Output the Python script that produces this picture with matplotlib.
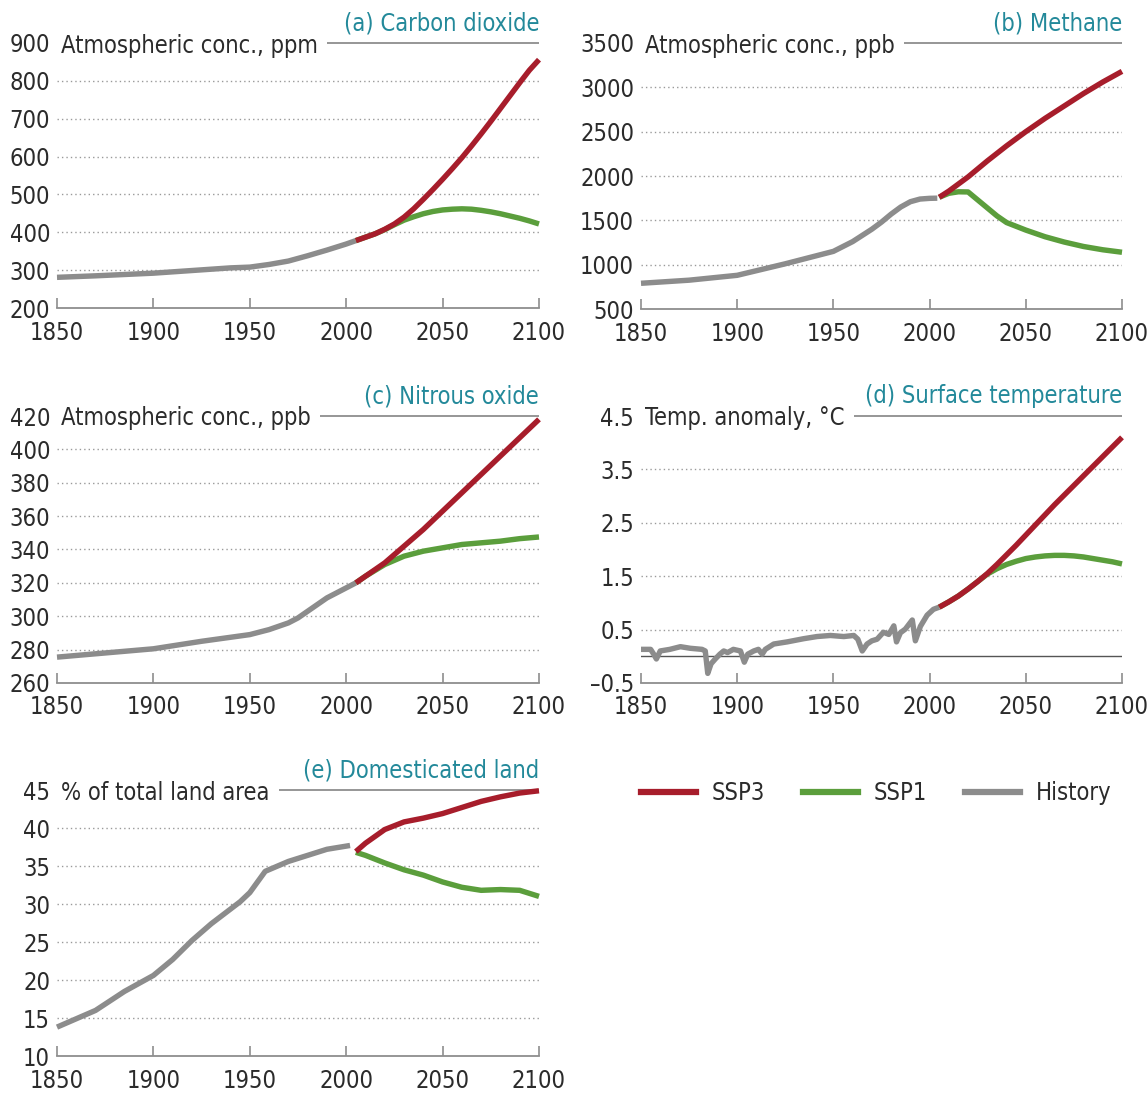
import matplotlib
matplotlib.use('Agg')
import matplotlib.pyplot as plt
import matplotlib.transforms as mtransforms
from matplotlib import font_manager as fm
from matplotlib.lines import Line2D

# ---------------- data ----------------
x_ticks = [1850, 1900, 1950, 2000, 2050, 2100]

# (a) Carbon dioxide, ppm
co2_hist_years = [1850, 1870, 1900, 1920, 1940, 1950, 1960, 1970, 1980, 1990, 2000, 2005]
co2_hist = [281, 285, 292, 299, 306, 308, 315, 324, 338, 353, 369, 378]
co2_scen_years = [2005, 2010, 2015, 2020, 2025, 2030, 2035, 2040, 2045, 2050, 2055, 2060,
                  2065, 2070, 2075, 2080, 2085, 2090, 2095, 2100]
co2_ssp3 = [378, 387, 396, 408, 422, 440, 462, 487, 513, 540, 568, 597,
            628, 660, 693, 727, 761, 795, 828, 856]
co2_ssp1 = [378, 387, 396, 407, 420, 432, 441, 449, 455, 459, 461, 462,
            461, 458, 454, 449, 443, 437, 430, 422]
co2_yticks = [200, 300, 400, 500, 600, 700, 800, 900]

# (b) Methane, ppb
ch4_hist_years = [1850, 1875, 1900, 1925, 1950, 1960, 1970, 1975, 1980, 1985, 1990, 1995, 2000, 2004]
ch4_hist = [790, 825, 880, 1010, 1150, 1260, 1400, 1480, 1570, 1650, 1710, 1740, 1748, 1750]
ch4_ssp3_years = [2005, 2010, 2020, 2030, 2040, 2050, 2060, 2070, 2080, 2090, 2100]
ch4_ssp3 = [1760, 1830, 1990, 2170, 2340, 2500, 2650, 2790, 2930, 3060, 3180]
ch4_ssp1_years = [2005, 2010, 2015, 2020, 2025, 2030, 2035, 2040, 2050, 2060, 2070, 2080, 2090, 2100]
ch4_ssp1 = [1760, 1805, 1822, 1820, 1730, 1640, 1550, 1475, 1390, 1315, 1255, 1205, 1168, 1140]
ch4_yticks = [500, 1000, 1500, 2000, 2500, 3000, 3500]

# (c) Nitrous oxide, ppb
n2o_hist_years = [1850, 1875, 1900, 1925, 1950, 1960, 1970, 1975, 1980, 1985, 1990, 1995, 2000, 2005]
n2o_hist = [275.5, 278, 280.5, 285, 289, 292, 296, 299, 303, 307, 311, 314, 317, 320]
n2o_scen_years = [2005, 2010, 2020, 2030, 2040, 2050, 2060, 2070, 2080, 2090, 2100]
n2o_ssp3 = [320, 324, 332, 342, 352, 363, 374, 385, 396, 407, 418]
n2o_ssp1 = [320, 324, 331, 336, 339, 341, 343, 344, 345, 346.5, 347.5]
n2o_yticks = [260, 280, 300, 320, 340, 360, 380, 400, 420]

# (d) Surface temperature anomaly, deg C
tmp_hist_years = [1850, 1855, 1856.6, 1858, 1860, 1865, 1870.5, 1875.6, 1881.7, 1883.4,
                  1884.7, 1886.4, 1888.6, 1891, 1893, 1895, 1898, 1901.7, 1903.7, 1905.5,
                  1908.6, 1911, 1913, 1914.6, 1919, 1926, 1934.6, 1941.5, 1948.4, 1955.4,
                  1960.6, 1962.7, 1965, 1967.5, 1970, 1972.7, 1976, 1978.8, 1981.4, 1982.8,
                  1984.8, 1987.4, 1991, 1992.6, 1995.2, 1998.7, 2002, 2005]
tmp_hist = [0.13, 0.13, 0.04, -0.05, 0.10, 0.13, 0.18, 0.15, 0.13, 0.10,
            -0.32, -0.14, -0.05, 0.04, 0.10, 0.07, 0.13, 0.10, -0.11, 0.04,
            0.10, 0.13, 0.04, 0.13, 0.23, 0.27, 0.33, 0.37, 0.39, 0.37,
            0.39, 0.32, 0.10, 0.23, 0.29, 0.32, 0.45, 0.41, 0.57, 0.27,
            0.44, 0.51, 0.68, 0.29, 0.56, 0.77, 0.88, 0.92]
tmp_scen_years = [2005, 2010, 2015, 2020, 2025, 2030, 2035, 2040, 2045, 2050, 2055, 2060,
                  2065, 2070, 2075, 2080, 2085, 2090, 2095, 2100]
tmp_ssp3 = [0.92, 1.02, 1.13, 1.26, 1.40, 1.55, 1.72, 1.90, 2.08, 2.27, 2.46, 2.65,
            2.84, 3.02, 3.20, 3.38, 3.56, 3.74, 3.92, 4.10]
tmp_ssp1 = [0.92, 1.02, 1.13, 1.26, 1.40, 1.54, 1.64, 1.72, 1.78, 1.83, 1.86, 1.88,
            1.89, 1.89, 1.88, 1.86, 1.83, 1.80, 1.77, 1.73]
tmp_yticks = [-0.5, 0.5, 1.5, 2.5, 3.5, 4.5]
tmp_yticklabels = ['\u20130.5', '0.5', '1.5', '2.5', '3.5', '4.5']

# (e) Domesticated land, % of total land area
lnd_hist_years = [1850, 1870, 1885, 1900, 1910, 1920, 1930, 1945, 1950, 1958, 1970, 1980, 1990, 2002]
lnd_hist = [13.8, 16.0, 18.5, 20.6, 22.7, 25.2, 27.4, 30.3, 31.5, 34.3, 35.6, 36.4, 37.2, 37.7]
lnd_scen_years = [2005, 2010, 2020, 2030, 2040, 2050, 2060, 2070, 2080, 2090, 2100]
lnd_ssp3 = [36.9, 38.0, 39.8, 40.8, 41.3, 41.9, 42.7, 43.5, 44.1, 44.6, 44.9]
lnd_ssp1 = [36.8, 36.4, 35.4, 34.5, 33.8, 32.9, 32.2, 31.8, 31.9, 31.8, 31.0]
lnd_yticks = [10, 15, 20, 25, 30, 35, 40, 45]

legend_labels = ['SSP3', 'SSP1', 'History']

# ---------------- style ----------------
avail = {f.name for f in fm.fontManager.ttflist}
STRETCH = 'normal'
if 'Liberation Sans Narrow' in avail:
    FAMILY = ['Liberation Sans Narrow', 'DejaVu Sans']
elif any(f.name == 'DejaVu Sans' and str(f.stretch) in ('condensed', 'semi-condensed')
         for f in fm.fontManager.ttflist):
    FAMILY = ['DejaVu Sans']
    STRETCH = 'condensed'
else:
    FAMILY = ['Roboto', 'DejaVu Sans']
plt.rcParams['font.family'] = FAMILY
plt.rcParams['font.stretch'] = STRETCH

RED = '#A71D2B'
GREEN = '#5B9E3C'
GRAY = '#8C8C8C'
AXC = '#8E8E8E'
GRID = '#9A9A9A'
TXT = '#2B2B2B'
TEAL = '#23899A'
FS = 17
LW = 3.9

W, H = 1148, 1095
fig = plt.figure(figsize=(W / 100, H / 100), dpi=100)


def panel(px, ylim, yticks, yticklabels, unit, title, series, zero=False):
    l, t, r, b = px
    ax = fig.add_axes([l / W, 1 - b / H, (r - l) / W, (b - t) / H])
    ax.set_xlim(1850, 2100)
    ax.set_ylim(*ylim)
    for s in ['left', 'right', 'top']:
        ax.spines[s].set_visible(False)
    ax.spines['bottom'].set_color(AXC)
    ax.spines['bottom'].set_linewidth(1.3)
    ax.set_xticks(x_ticks)
    ax.set_xticklabels([str(v) for v in x_ticks])
    ax.tick_params(axis='x', direction='in', length=7.5, width=1.2, color=AXC,
                   pad=9, labelsize=FS, labelcolor=TXT)
    ax.set_yticks(yticks)
    ax.set_yticklabels(yticklabels)
    ax.tick_params(axis='y', length=0, pad=5, labelsize=FS, labelcolor=TXT)
    for v in yticks[1:-1]:
        ax.axhline(v, color=GRID, lw=1.0, ls=(0, (1, 2.2)), zorder=1)
    if zero:
        ax.axhline(0, color='#555555', lw=1.0, zorder=1)
    blend = mtransforms.blended_transform_factory(ax.transAxes, ax.transData)
    ut = ax.text(0.009, ylim[1], unit, transform=blend, ha='left', va='center_baseline',
                 fontsize=FS, color=TXT)
    ax.annotate(title, xy=(1, 1), xycoords='axes fraction', xytext=(0, 9),
                textcoords='offset points', ha='right', va='baseline',
                fontsize=FS, color=TEAL)
    (hx, hy), (s1x, s1y), (s3x, s3y) = series
    ax.plot(hx, hy, color=GRAY, lw=LW, solid_capstyle='butt', solid_joinstyle='round',
            zorder=3, clip_on=False)
    ax.plot(s1x, s1y, color=GREEN, lw=LW, solid_capstyle='butt', solid_joinstyle='round',
            zorder=4, clip_on=False)
    ax.plot(s3x, s3y, color=RED, lw=LW, solid_capstyle='butt', solid_joinstyle='round',
            zorder=5, clip_on=False)
    return ax, ut, blend, ylim[1]


LEFT = (57, 539)
RIGHT = (641, 1122)
panels = []
panels.append(panel((LEFT[0], 43, LEFT[1], 308), (200, 900), co2_yticks,
                    [str(v) for v in co2_yticks], 'Atmospheric conc., ppm', '(a) Carbon dioxide',
                    [(co2_hist_years, co2_hist), (co2_scen_years, co2_ssp1),
                     (co2_scen_years, co2_ssp3)]))
panels.append(panel((RIGHT[0], 43, RIGHT[1], 309), (500, 3500), ch4_yticks,
                    [str(v) for v in ch4_yticks], 'Atmospheric conc., ppb', '(b) Methane',
                    [(ch4_hist_years, ch4_hist), (ch4_ssp1_years, ch4_ssp1),
                     (ch4_ssp3_years, ch4_ssp3)]))
panels.append(panel((LEFT[0], 416, LEFT[1], 683), (260, 420), n2o_yticks,
                    [str(v) for v in n2o_yticks], 'Atmospheric conc., ppb', '(c) Nitrous oxide',
                    [(n2o_hist_years, n2o_hist), (n2o_scen_years, n2o_ssp1),
                     (n2o_scen_years, n2o_ssp3)]))
panels.append(panel((RIGHT[0], 416, RIGHT[1], 683), (-0.5, 4.5), tmp_yticks,
                    tmp_yticklabels, 'Temp. anomaly, \u00b0C', '(d) Surface temperature',
                    [(tmp_hist_years, tmp_hist), (tmp_scen_years, tmp_ssp1),
                     (tmp_scen_years, tmp_ssp3)], zero=True))
panels.append(panel((LEFT[0], 790, LEFT[1], 1056), (10, 45), lnd_yticks,
                    [str(v) for v in lnd_yticks], '% of total land area', '(e) Domesticated land',
                    [(lnd_hist_years, lnd_hist), (lnd_scen_years, lnd_ssp1),
                     (lnd_scen_years, lnd_ssp3)]))

# top rule lines from the end of the unit label to the right edge
fig.canvas.draw()
renderer = fig.canvas.get_renderer()
for ax, ut, blend, ytop in panels:
    bb = ut.get_window_extent(renderer)
    x0 = ax.transAxes.inverted().transform((bb.x1 + 9, bb.y0))[0]
    ax.plot([x0, 1], [ytop, ytop], transform=blend, color=AXC, lw=1.3, clip_on=False,
            solid_capstyle='butt', zorder=2)

handles = [Line2D([], [], color=RED, lw=LW + 0.6),
           Line2D([], [], color=GREEN, lw=LW + 0.6),
           Line2D([], [], color=GRAY, lw=LW + 0.6)]
fig.legend(handles, legend_labels, loc='center left',
           bbox_to_anchor=(641 / W, 1 - 793 / H), ncol=3, frameon=False, fontsize=FS,
           handlelength=2.35, handletextpad=0.65, columnspacing=1.6,
           borderaxespad=0, borderpad=0, labelcolor=TXT)

fig.savefig('out.png', dpi=100)
